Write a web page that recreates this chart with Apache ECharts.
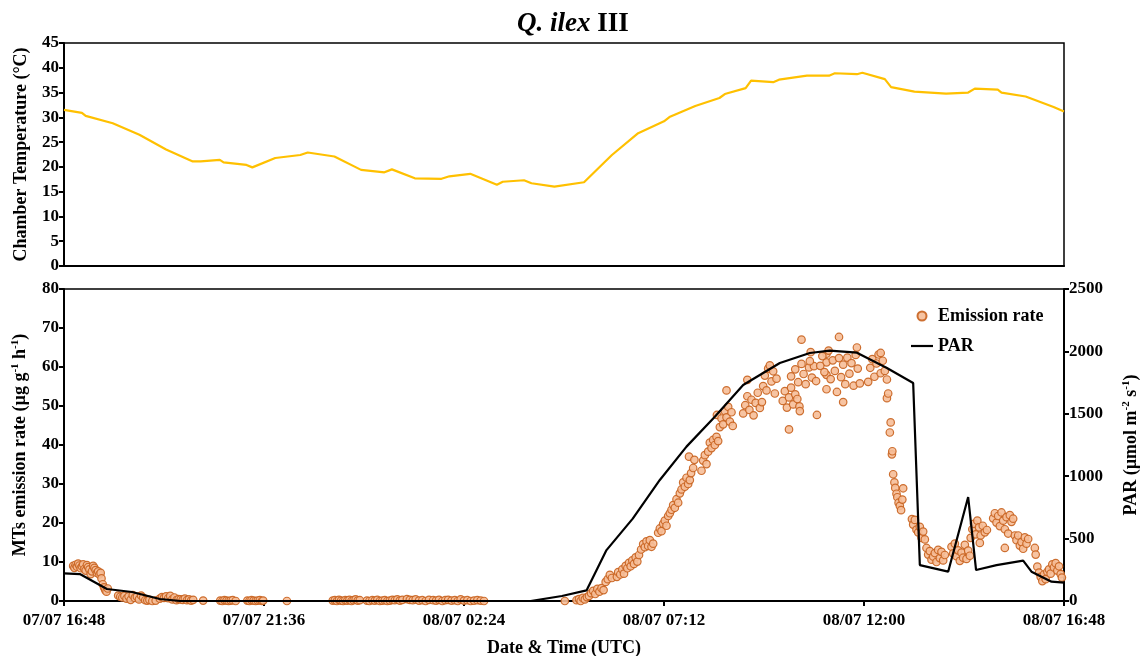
<!DOCTYPE html>
<html>
<head>
<meta charset="utf-8">
<script src="https://cdn.jsdelivr.net/npm/echarts@6/dist/echarts.min.js"></script>
<style>
  html, body { margin: 0; padding: 0; background: #fff; }
  #chart { width: 1142px; height: 656px; }
</style>
</head>
<body>
<div id="chart"></div>
<script>
// x values are hours since 07/07 16:48 (UTC)
const tickLabels = ["07/07 16:48", "07/07 21:36", "08/07 02:24", "08/07 07:12", "08/07 12:00", "08/07 16:48"];

const tempHours = [0, 0.43, 0.52, 1.17, 1.81, 2.45, 3.09, 3.28, 3.74, 3.83, 4.38, 4.52, 5.07, 5.67, 5.85, 6.49,
    7.13, 7.69, 7.87, 8.42, 9.06, 9.25, 9.75, 10.39, 10.53, 11.04, 11.22, 11.77, 12.48, 13.15, 13.78, 14.4,
    14.53, 15.15, 15.73, 15.86, 16.36, 16.49, 17.02, 17.16, 17.83, 18.36, 18.5, 19.03, 19.16, 19.7, 19.85,
    20.41, 21.17, 21.7, 21.86, 22.41, 22.5, 23.08, 23.75, 24];
const tempValues = [31.5, 30.9, 30.3, 28.8, 26.5, 23.5, 21.1, 21.1, 21.4, 20.9, 20.4, 19.9, 21.8, 22.4, 22.9, 22.1,
    19.4, 18.9, 19.5, 17.7, 17.6, 18.1, 18.6, 16.4, 17.0, 17.3, 16.7, 16.0, 16.9, 22.4, 26.8, 29.2,
    30.05, 32.3, 33.9, 34.7, 35.9, 37.4, 37.1, 37.6, 38.4, 38.4, 38.9, 38.7, 39.0, 37.7, 36.1,
    35.2, 34.8, 35.0, 35.8, 35.6, 35.0, 34.2, 32.1, 31.2];

const parHours = [0, 0.38, 1.03, 1.63, 2.3, 2.8, 11.2, 11.95, 12.54, 13.02, 13.65, 14.3, 14.94, 15.62, 16.3,
    17.18, 17.9, 18.38, 19.03, 19.75, 20.38, 20.54, 21.22, 21.7, 21.89, 22.38, 23.02, 23.22, 23.7, 24];
const parValues = [222, 216, 96, 72, 16, 0, 0, 40, 85, 408, 660, 970, 1237, 1477, 1731,
    1907, 1987, 2006, 1990, 1867, 1747, 288, 235, 833, 248, 288, 323, 235, 155, 147];

const emissionPoints = [
    [0.22, 9.0], [0.25, 8.5], [0.28, 9.3], [0.31, 8.8], [0.34, 9.6], [0.37, 9.1], [0.4, 8.4], [0.43, 8.9],
    [0.46, 9.4], [0.49, 8.2], [0.52, 7.8], [0.55, 9.2], [0.58, 8.7], [0.61, 8.1], [0.64, 6.9], [0.67, 7.6],
    [0.7, 9.0], [0.73, 8.5], [0.76, 7.9], [0.79, 7.2], [0.82, 7.6], [0.85, 6.8], [0.88, 7.2], [0.9, 5.8],
    [0.93, 4.3], [0.96, 3.5], [0.99, 2.8], [1.02, 2.4], [1.05, 3.2],
    [1.3, 1.4], [1.35, 1.1], [1.4, 0.9], [1.45, 1.3], [1.5, 0.6], [1.55, 1.2], [1.6, 0.3], [1.65, 1.5],
    [1.7, 0.8], [1.75, 1.1], [1.8, 0.4], [1.85, 1.4], [1.9, 0.9], [1.95, 0.2], [2.0, 0.1], [2.05, 0.3],
    [2.12, 0.0], [2.2, 0.1],
    [2.3, 0.6], [2.35, 1.0], [2.4, 0.8], [2.45, 1.2], [2.5, 0.7], [2.55, 1.3], [2.6, 0.4], [2.65, 0.9],
    [2.7, 0.2], [2.75, 0.5], [2.8, 0.4], [2.85, 0.3], [2.9, 0.6], [2.95, 0.2], [3.0, 0.4], [3.05, 0.1], [3.1, 0.3],
    [3.34, 0.1], [3.75, 0.1], [3.8, 0.0], [3.85, 0.2], [3.9, 0.1], [3.95, 0.0], [4.0, 0.1], [4.05, 0.2], [4.12, 0.0],
    [4.4, 0.1], [4.45, 0.0], [4.5, 0.2], [4.55, 0.1], [4.6, 0.0], [4.65, 0.1], [4.7, 0.2], [4.75, 0.0], [4.78, 0.1],
    [5.35, 0.0],
    [6.45, 0.1], [6.5, 0.2], [6.55, 0.0], [6.6, 0.3], [6.65, 0.1], [6.7, 0.0], [6.75, 0.2], [6.8, 0.1],
    [6.85, 0.3], [6.9, 0.0], [6.95, 0.2], [7.0, 0.4], [7.05, 0.1], [7.1, 0.2],
    [7.27, 0.1], [7.33, 0.0], [7.4, 0.2], [7.46, 0.1], [7.52, 0.3], [7.58, 0.0], [7.64, 0.1], [7.7, 0.2],
    [7.76, 0.0], [7.82, 0.1], [7.88, 0.3], [7.94, 0.2], [8.0, 0.4], [8.06, 0.1], [8.12, 0.3],
    [8.23, 0.5], [8.3, 0.3], [8.37, 0.2], [8.44, 0.4], [8.52, 0.1], [8.6, 0.2], [8.68, 0.0], [8.76, 0.3],
    [8.86, 0.2], [8.93, 0.1], [9.0, 0.3], [9.08, 0.0], [9.15, 0.2],
    [9.22, 0.3], [9.3, 0.1], [9.38, 0.2], [9.45, 0.0], [9.52, 0.4], [9.6, 0.1], [9.68, 0.2], [9.76, 0.0],
    [9.84, 0.1], [9.92, 0.2], [10.0, 0.1], [10.08, 0.0],
    [12.02, 0.0], [12.3, 0.2], [12.36, 0.5], [12.4, 0.0], [12.45, 0.8], [12.5, 0.4], [12.55, 1.0], [12.6, 1.3],
    [12.65, 2.0], [12.7, 2.6], [12.75, 1.8], [12.8, 3.1], [12.85, 2.4], [12.9, 3.3], [12.95, 2.8],
    [13.0, 4.9], [13.05, 5.6], [13.1, 6.7], [13.15, 5.9],
    [13.27, 6.2], [13.3, 7.4], [13.35, 6.8], [13.4, 8.1], [13.44, 7.0], [13.48, 9.0], [13.52, 8.4], [13.56, 9.8],
    [13.6, 8.9], [13.64, 10.4], [13.68, 9.5], [13.72, 11.2], [13.76, 10.1], [13.8, 11.8],
    [13.85, 13.2], [13.9, 14.6], [13.94, 13.8], [13.98, 15.3], [14.02, 14.1], [14.06, 15.6], [14.1, 13.9], [14.14, 14.7],
    [14.26, 17.5], [14.3, 18.6], [14.34, 17.9], [14.38, 19.8], [14.42, 20.6], [14.46, 19.3], [14.5, 21.8], [14.54, 22.5],
    [14.58, 23.4], [14.62, 24.6], [14.66, 23.9], [14.7, 26.1], [14.74, 25.2], [14.78, 27.6],
    [14.82, 28.6], [14.86, 30.4], [14.9, 29.3], [14.94, 31.6], [14.98, 30.0], [15.02, 31.0],
    [15.0, 37.0], [15.05, 32.8], [15.1, 34.1], [15.13, 36.2],
    [15.3, 33.4], [15.34, 36.0], [15.38, 37.4], [15.42, 35.1], [15.46, 38.3],
    [15.5, 40.6], [15.54, 39.2], [15.58, 41.3], [15.62, 40.0], [15.66, 42.1], [15.7, 41.0], [15.67, 47.7],
    [15.74, 44.6], [15.78, 46.8], [15.82, 45.3], [15.86, 48.7], [15.9, 47.1], [15.94, 49.8], [15.98, 46.0],
    [16.02, 48.4], [16.05, 44.9], [15.9, 54.0],
    [16.3, 48.1], [16.35, 50.2], [16.4, 52.5], [16.45, 49.0], [16.5, 51.6], [16.55, 47.6], [16.6, 50.8],
    [16.65, 53.4], [16.7, 49.5], [16.75, 51.0], [16.4, 56.7],
    [16.78, 55.1], [16.82, 57.8], [16.86, 54.0], [16.9, 59.6], [16.94, 60.4], [16.98, 56.3], [17.02, 58.9],
    [17.06, 53.2], [17.1, 57.0],
    [17.25, 51.3], [17.3, 53.8], [17.35, 49.6], [17.4, 52.2], [17.45, 54.7], [17.5, 50.4], [17.55, 53.0],
    [17.6, 51.8], [17.65, 49.9], [17.4, 44.0],
    [17.45, 57.6], [17.55, 59.4], [17.62, 56.1], [17.7, 60.8], [17.75, 58.2], [17.8, 55.6], [17.88, 59.9],
    [17.95, 57.3], [18.0, 60.2], [18.05, 56.4],
    [17.66, 48.7], [17.7, 67.0], [17.9, 61.5], [17.92, 63.8], [18.07, 47.7],
    [18.3, 54.3], [18.3, 58.0], [18.3, 61.2], [18.3, 63.4],
    [18.15, 60.3], [18.2, 62.8], [18.25, 58.7], [18.35, 64.2], [18.4, 56.9], [18.45, 61.7], [18.5, 59.0],
    [18.55, 53.6], [18.6, 62.3], [18.6, 67.7],
    [18.65, 57.4], [18.7, 60.6], [18.75, 55.6], [18.8, 62.4], [18.85, 58.3], [18.9, 61.0], [18.95, 55.2],
    [19.0, 63.1], [19.05, 59.6], [19.1, 55.8], [18.7, 51.0], [19.03, 65.0],
    [19.3, 56.2], [19.35, 59.8], [19.4, 62.0], [19.45, 57.5], [19.5, 60.9], [19.55, 63.2], [19.6, 58.4],
    [19.65, 61.6], [19.7, 59.0], [19.75, 56.8], [19.6, 63.6], [19.75, 52.0], [19.78, 53.2],
    [19.82, 43.2], [19.84, 45.8], [19.87, 37.6], [19.88, 38.4],
    [19.9, 32.5], [19.93, 30.4], [19.95, 29.0], [19.98, 27.5], [20.0, 26.6], [20.03, 25.2], [20.06, 24.4],
    [20.09, 23.3], [20.12, 26.0], [20.14, 28.9],
    [20.35, 21.0], [20.38, 19.6], [20.42, 20.8], [20.46, 18.3], [20.5, 17.6], [20.54, 19.0], [20.58, 16.2],
    [20.62, 17.8], [20.66, 15.8],
    [20.7, 13.6], [20.74, 11.9], [20.78, 12.8], [20.82, 10.6], [20.86, 11.4], [20.9, 12.3], [20.94, 10.0],
    [20.98, 13.1], [21.02, 11.0], [21.06, 12.6], [21.1, 10.4], [21.14, 11.8],
    [21.3, 13.9], [21.34, 12.2], [21.38, 14.7], [21.42, 11.5], [21.46, 13.0], [21.5, 10.3], [21.54, 12.4],
    [21.58, 11.1], [21.62, 14.4], [21.66, 10.8], [21.7, 12.9], [21.74, 11.6],
    [21.76, 16.2], [21.8, 18.4], [21.84, 19.8], [21.88, 17.1], [21.92, 20.6], [21.96, 18.9], [22.0, 16.8],
    [22.05, 19.3], [22.1, 17.6], [22.15, 18.2], [21.98, 14.9],
    [22.3, 21.2], [22.34, 22.5], [22.38, 20.1], [22.42, 21.8], [22.46, 19.2], [22.5, 22.7], [22.54, 20.6],
    [22.58, 18.4], [22.62, 21.5], [22.66, 17.3], [22.7, 22.0], [22.74, 20.3], [22.78, 21.1], [22.82, 16.8],
    [22.58, 13.6],
    [22.86, 15.6], [22.9, 16.8], [22.94, 14.2], [22.98, 15.1], [23.02, 13.4], [23.06, 16.3], [23.1, 14.7], [23.14, 15.9],
    [23.3, 13.6], [23.32, 11.9],
    [23.36, 8.8], [23.4, 7.3], [23.44, 6.2], [23.48, 5.1], [23.52, 6.8], [23.56, 5.6], [23.6, 7.5],
    [23.64, 8.1], [23.68, 7.0], [23.72, 9.4], [23.76, 8.6], [23.8, 9.7], [23.84, 7.8], [23.88, 8.9],
    [23.92, 6.9], [23.95, 6.0]
];

const FONT = "'Liberation Serif', 'Times New Roman', serif";
const axisLine = {show: true, lineStyle: {color: "#000", width: 2}};
const axisTick = {show: true, inside: false, length: 5, lineStyle: {color: "#000", width: 2}};
const axisLabel = {color: "#000", fontFamily: FONT, fontWeight: "bold", fontSize: 17, margin: 5};
const nameStyle = {color: "#000", fontFamily: FONT, fontWeight: "bold", fontSize: 18};
const supStyle = {fontFamily: FONT, fontWeight: "bold", fontSize: 11, color: "#000", verticalAlign: "top", padding: [0, 0, 9, 0]};

function timeAxis(gridIndex, showLabels) {
    return {
        type: "value",
        gridIndex: gridIndex,
        min: 0,
        max: 24,
        interval: 4.8,
        splitLine: {show: false},
        axisLine: axisLine,
        axisTick: showLabels ? axisTick : {show: false},
        axisLabel: Object.assign({}, axisLabel, {
            show: showLabels,
            margin: 11,
            formatter: v => tickLabels[Math.round(v / 4.8)],
        }),
        name: showLabels ? "Date & Time (UTC)" : "",
        nameLocation: "middle",
        nameGap: 38,
        nameTextStyle: nameStyle,
    };
}

const chart = echarts.init(document.getElementById("chart"));

const option = {
    animation: false,
    backgroundColor: "#fff",
    title: {
        text: "{i|Q. ilex} III",
        left: 568,
        textAlign: "center",
        top: 6,
        textStyle: {
            fontFamily: FONT,
            fontWeight: "bold",
            fontSize: 27,
            color: "#000",
            rich: {
                i: {fontFamily: FONT, fontWeight: "bold", fontStyle: "italic", fontSize: 27, color: "#000"},
            },
        },
    },
    legend: {
        orient: "vertical",
        left: 906,
        top: 302,
        itemWidth: 22,
        itemHeight: 9,
        itemGap: 12,
        textStyle: {fontFamily: FONT, fontWeight: "bold", fontSize: 18, color: "#000"},
        data: [
            {name: "Emission rate", icon: "circle"},
            {name: "PAR", icon: "path://M0,0 L22,0 L22,2.2 L0,2.2 Z", itemStyle: {color: "#000"}},
        ],
    },
    grid: [
        {left: 64, right: 78, top: 43, height: 223, show: true, borderColor: "#000", borderWidth: 1.5, outerBoundsMode: "none"},
        {left: 64, right: 78, top: 289, height: 312, show: true, borderColor: "#000", borderWidth: 1.5, outerBoundsMode: "none"},
    ],
    xAxis: [timeAxis(0, false), timeAxis(1, true)],
    yAxis: [
        {
            type: "value",
            gridIndex: 0,
            min: 0,
            max: 45,
            interval: 5,
            splitLine: {show: false},
            axisLine: axisLine,
            axisTick: axisTick,
            axisLabel: axisLabel,
            name: "Chamber Temperature (°C)",
            nameLocation: "middle",
            nameGap: 34,
            nameTextStyle: nameStyle,
        },
        {
            type: "value",
            gridIndex: 1,
            min: 0,
            max: 80,
            interval: 10,
            splitLine: {show: false},
            axisLine: axisLine,
            axisTick: axisTick,
            axisLabel: axisLabel,
            name: "MTs emission rate (µg g{s|-1} h{s|-1})",
            nameLocation: "middle",
            nameGap: 34,
            nameTextStyle: Object.assign({}, nameStyle, {rich: {s: supStyle}}),
        },
        {
            type: "value",
            gridIndex: 1,
            position: "right",
            min: 0,
            max: 2500,
            interval: 500,
            splitLine: {show: false},
            axisLine: axisLine,
            axisTick: axisTick,
            axisLabel: Object.assign({}, axisLabel, {formatter: v => String(v)}),
            name: "PAR (µmol m{s|-2} s{s|-1})",
            nameLocation: "middle",
            nameGap: 57,
            nameRotate: 90,
            nameTextStyle: Object.assign({}, nameStyle, {rich: {s: supStyle}}),
        },
    ],
    series: [
        {
            name: "Chamber Temperature",
            type: "line",
            xAxisIndex: 0,
            yAxisIndex: 0,
            showSymbol: false,
            symbol: "none",
            lineStyle: {color: "#FFC000", width: 2.2},
            data: tempHours.map((h, i) => [h, tempValues[i]]),
        },
        {
            name: "Emission rate",
            type: "scatter",
            xAxisIndex: 1,
            yAxisIndex: 1,
            symbolSize: 7.5,
            itemStyle: {color: "#F6BE98", borderColor: "#C8621E", borderWidth: 1.2, opacity: 0.9},
            data: emissionPoints,
        },
        {
            name: "PAR",
            type: "line",
            xAxisIndex: 1,
            yAxisIndex: 2,
            symbol: "none",
            lineStyle: {color: "#000", width: 2.2},
            itemStyle: {color: "#000"},
            data: parHours.map((h, i) => [h, parValues[i]]),
        },
    ],
};

chart.setOption(option);
</script>
</body>
</html>
